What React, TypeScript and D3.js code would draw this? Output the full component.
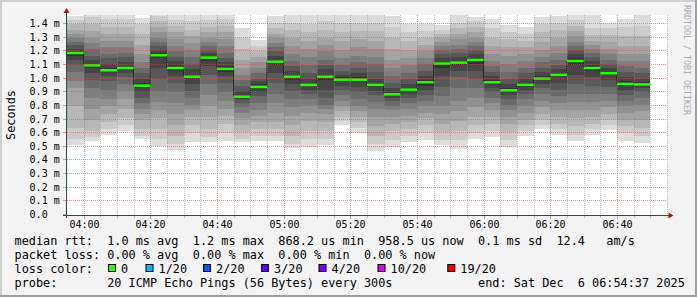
import React from "react";
import * as d3 from "d3";

const W = 697;
const H = 297;

const startTime = new Date(Date.UTC(2025, 11, 6, 3, 55));
const endTime = new Date(Date.UTC(2025, 11, 6, 6, 55));
const stepMinutes = 5;

// median rtt per 5-minute step (ms)
const medians = [
  1.189, 1.098, 1.062, 1.079, 0.949, 1.172, 1.079, 1.015, 1.155, 1.072,
  0.8682, 0.94, 1.125, 1.015, 0.955, 1.015, 0.993, 0.993, 0.955, 0.886,
  0.92, 0.974, 1.111, 1.118, 1.138, 0.974, 0.915, 0.955, 1.001, 1.028,
  1.13, 1.079, 1.04, 0.962, 0.9585,
];

// 20 sorted ping times per step (ms)
const pings = [
  [0.51,0.56,0.64,0.80,0.93,0.98,1.05,1.10,1.14,1.17,1.20,1.22,1.25,1.27,1.30,1.33,1.36,1.40,1.43,1.46],
  [0.54,0.57,0.62,0.70,0.78,0.86,0.93,0.99,1.04,1.08,1.11,1.14,1.17,1.22,1.26,1.30,1.35,1.40,1.45,1.52],
  [0.59,0.63,0.68,0.74,0.80,0.85,0.92,0.98,1.02,1.05,1.08,1.11,1.15,1.18,1.23,1.28,1.33,1.38,1.44,1.52],
  [0.62,0.66,0.71,0.78,0.85,0.91,0.96,1.01,1.04,1.07,1.09,1.12,1.16,1.19,1.23,1.28,1.33,1.38,1.44,1.52],
  [0.555,0.58,0.63,0.70,0.74,0.78,0.82,0.86,0.90,0.93,0.97,1.00,1.04,1.08,1.12,1.18,1.25,1.33,1.40,1.443],
  [0.505,0.56,0.63,0.71,0.77,0.83,0.91,1.00,1.08,1.15,1.19,1.21,1.24,1.27,1.30,1.34,1.38,1.42,1.46,1.52],
  [0.48,0.52,0.58,0.66,0.74,0.82,0.90,0.97,1.02,1.06,1.10,1.13,1.16,1.20,1.24,1.29,1.34,1.39,1.43,1.48],
  [0.535,0.60,0.66,0.72,0.77,0.81,0.86,0.91,0.96,1.00,1.03,1.07,1.11,1.16,1.21,1.26,1.31,1.36,1.42,1.50],
  [0.537,0.57,0.63,0.72,0.80,0.88,0.96,1.03,1.09,1.13,1.17,1.19,1.21,1.24,1.27,1.30,1.34,1.38,1.43,1.50],
  [0.544,0.60,0.67,0.73,0.78,0.84,0.90,0.97,1.02,1.05,1.09,1.12,1.15,1.19,1.24,1.29,1.34,1.39,1.44,1.52],
  [0.535,0.56,0.61,0.66,0.71,0.75,0.79,0.82,0.85,0.865,0.88,0.91,0.95,0.99,1.03,1.08,1.14,1.22,1.30,1.37],
  [0.54,0.58,0.63,0.68,0.73,0.77,0.82,0.87,0.90,0.93,0.96,0.98,1.00,1.04,1.08,1.12,1.16,1.20,1.24,1.285],
  [0.54,0.58,0.63,0.68,0.75,0.82,0.89,0.97,1.04,1.10,1.14,1.17,1.20,1.23,1.26,1.30,1.33,1.37,1.41,1.46],
  [0.49,0.52,0.58,0.66,0.73,0.79,0.85,0.91,0.96,0.99,1.03,1.06,1.09,1.13,1.18,1.24,1.30,1.36,1.41,1.50],
  [0.50,0.56,0.62,0.69,0.75,0.80,0.85,0.89,0.92,0.945,0.97,1.00,1.04,1.10,1.16,1.22,1.28,1.34,1.40,1.50],
  [0.515,0.56,0.62,0.68,0.74,0.78,0.81,0.86,0.92,0.99,1.03,1.07,1.10,1.14,1.20,1.25,1.30,1.36,1.42,1.50],
  [0.662,0.69,0.72,0.76,0.80,0.84,0.88,0.92,0.95,0.98,1.01,1.03,1.06,1.10,1.15,1.21,1.28,1.34,1.41,1.47],
  [0.60,0.64,0.68,0.72,0.76,0.80,0.85,0.90,0.94,0.98,1.01,1.04,1.08,1.12,1.17,1.23,1.29,1.35,1.41,1.50],
  [0.467,0.52,0.58,0.65,0.72,0.78,0.83,0.88,0.91,0.94,0.97,1.00,1.05,1.11,1.16,1.22,1.28,1.35,1.41,1.50],
  [0.50,0.55,0.62,0.67,0.72,0.77,0.80,0.84,0.86,0.88,0.90,0.93,0.97,1.02,1.08,1.14,1.22,1.30,1.38,1.46],
  [0.537,0.58,0.63,0.68,0.73,0.78,0.82,0.86,0.89,0.91,0.93,0.96,1.00,1.04,1.10,1.15,1.21,1.28,1.34,1.40],
  [0.548,0.60,0.66,0.71,0.75,0.80,0.84,0.88,0.92,0.95,0.99,1.02,1.06,1.11,1.15,1.20,1.25,1.30,1.35,1.405],
  [0.517,0.55,0.61,0.67,0.74,0.80,0.87,0.94,1.02,1.08,1.12,1.15,1.18,1.21,1.24,1.27,1.30,1.33,1.36,1.395],
  [0.485,0.55,0.62,0.69,0.76,0.84,0.93,1.01,1.06,1.10,1.13,1.16,1.19,1.22,1.25,1.29,1.33,1.37,1.41,1.50],
  [0.56,0.60,0.66,0.72,0.79,0.86,0.93,1.00,1.06,1.11,1.15,1.18,1.21,1.24,1.27,1.30,1.34,1.38,1.42,1.45],
  [0.57,0.62,0.67,0.72,0.77,0.82,0.86,0.90,0.93,0.96,0.99,1.02,1.05,1.09,1.13,1.18,1.24,1.30,1.37,1.44],
  [0.50,0.55,0.61,0.67,0.72,0.77,0.81,0.85,0.88,0.905,0.93,0.96,1.00,1.05,1.11,1.17,1.23,1.29,1.34,1.395],
  [0.583,0.62,0.66,0.70,0.75,0.80,0.85,0.89,0.92,0.94,0.97,1.00,1.04,1.08,1.13,1.18,1.23,1.28,1.33,1.38],
  [0.634,0.66,0.70,0.74,0.79,0.84,0.89,0.93,0.96,0.99,1.02,1.05,1.08,1.12,1.16,1.21,1.27,1.34,1.40,1.455],
  [0.59,0.63,0.67,0.72,0.77,0.82,0.87,0.92,0.97,1.01,1.04,1.07,1.10,1.14,1.19,1.24,1.30,1.36,1.41,1.46],
  [0.541,0.59,0.65,0.71,0.77,0.83,0.89,0.96,1.03,1.10,1.15,1.18,1.21,1.24,1.27,1.31,1.35,1.39,1.43,1.465],
  [0.59,0.63,0.67,0.72,0.77,0.83,0.89,0.95,1.01,1.06,1.10,1.13,1.16,1.19,1.22,1.25,1.28,1.32,1.37,1.47],
  [0.627,0.66,0.70,0.74,0.79,0.84,0.89,0.94,0.99,1.03,1.05,1.08,1.11,1.14,1.18,1.22,1.27,1.32,1.37,1.406],
  [0.546,0.60,0.65,0.70,0.75,0.80,0.84,0.88,0.92,0.95,0.98,1.01,1.05,1.09,1.13,1.18,1.24,1.31,1.38,1.44],
  [0.529,0.58,0.64,0.70,0.76,0.81,0.86,0.90,0.93,0.955,0.975,1.00,1.04,1.08,1.13,1.18,1.24,1.31,1.39,1.465],
];

const yTicks = [0, 0.1, 0.2, 0.3, 0.4, 0.5, 0.6, 0.7, 0.8, 0.9, 1.0, 1.1, 1.2, 1.3, 1.4];

const lossLabels = ["0", "1/20", "2/20", "3/20", "4/20", "10/20", "19/20"];
const lossColors = ["#26ff00", "#00b8ff", "#0059ff", "#5e00ff", "#7e00ff", "#dd00ff", "#ff0000"];
const lossBoxX = [108, 145.5, 203, 261, 318.5, 377.5, 447.3];

const legendLine1 = "median rtt:  1.0 ms avg  1.2 ms max  868.2 us min  958.5 us now  0.1 ms sd  12.4   am/s";
const legendLine2 = "packet loss: 0.00 % avg  0.00 % max  0.00 % min  0.00 % now";
const legendLine3 = "loss color:";
const legendLine4 = "probe:       20 ICMP Echo Pings (56 Bytes) every 300s";
const legendEnd = "end: Sat Dec  6 06:54:37 2025";

const MONO = "'DejaVu Sans Mono', monospace";
const PRE: React.CSSProperties = { whiteSpace: "pre" };

export default function App() {
  const x = d3.scaleUtc().domain([startTime, endTime]).range([67, 667]);
  const y = d3.scaleLinear().domain([0, 1.4675]).range([215, 15]);

  const times = medians.map((_, i) => d3.utcMinute.offset(startTime, i * stepMinutes));
  const tEnd = (i: number) => d3.utcMinute.offset(startTime, (i + 1) * stepMinutes);

  const minorTimes = d3.utcMinute
    .every(5)!
    .range(d3.utcMinute.offset(startTime, 1), new Date(endTime.getTime() + 1));
  const majorTimes = d3.utcMinute.every(20)!.range(startTime, endTime);
  const majorSet = new Set(majorTimes.map((d) => d.getTime()));
  const fmt = d3.utcFormat("%H:%M");

  const half = 10;
  const smoke: React.ReactElement[] = [];
  for (let b = 1; b <= half; b++) {
    const c = Math.floor((190 / half) * (half - b)) + 50;
    const col = `rgb(${c},${c},${c})`;
    pings.forEach((p, i) => {
      const lo = p[b - 1];
      const hi = p[20 - b];
      const x0 = x(times[i]);
      const x1 = x(tEnd(i));
      smoke.push(
        <rect
          key={`s${b}-${i}`}
          x={x0}
          y={y(hi)}
          width={x1 - x0}
          height={y(lo) - y(hi)}
          fill={col}
          shapeRendering="crispEdges"
        />
      );
    });
  }

  const stepData = medians.map((m, i) => [times[i], m] as [Date, number]);
  stepData.push([tEnd(medians.length - 1), medians[medians.length - 1]]);
  const stepLine = d3
    .line<[Date, number]>()
    .x((d) => x(d[0]))
    .y((d) => y(d[1]))
    .curve(d3.curveStepAfter)(stepData);

  const gridMajor = "rgba(222,80,80,0.6)";
  const gridMinor = "rgba(143,143,143,0.55)";

  return (
    <svg
      width={W}
      height={H}
      viewBox={`0 0 ${W} ${H}`}
      style={{ position: "absolute", left: 0, top: 0, display: "block" }}
    >
      <rect x={0} y={0} width={W} height={H} fill="#f3f3f3" />
      <rect x={0} y={0} width={W} height={2} fill="#cfcfcf" />
      <rect x={0} y={0} width={2} height={H} fill="#cfcfcf" />
      <rect x={0} y={H - 2} width={W} height={2} fill="#9e9e9e" />
      <rect x={W - 2} y={0} width={2} height={H} fill="#9e9e9e" />

      <defs>
        <clipPath id="canvasClip">
          <rect x={67} y={15} width={600} height={200} />
        </clipPath>
      </defs>

      <rect x={67} y={15} width={600} height={200} fill="#ffffff" />

      <g clipPath="url(#canvasClip)">
        {smoke}
        <path d={stepLine || ""} fill="none" stroke="#202020" strokeWidth={1} />
        {medians.map((m, i) => {
          const x0 = x(times[i]);
          const x1 = x(tEnd(i));
          return (
            <rect
              key={`m${i}`}
              x={x0}
              y={y(m) - 1.25}
              width={x1 - x0}
              height={2.5}
              fill={lossColors[0]}
            />
          );
        })}
      </g>

      {/* grid */}
      {minorTimes
        .filter((t) => !majorSet.has(t.getTime()))
        .map((t) => {
          const xx = Math.round(x(t)) + 0.5;
          return (
            <g key={`vm${t.getTime()}`}>
              <line x1={xx} x2={xx} y1={15} y2={215} stroke={gridMinor} strokeDasharray="1,1" />
              <line x1={xx} x2={xx} y1={215} y2={218} stroke={gridMinor} />
            </g>
          );
        })}
      {majorTimes.map((t) => {
        const xx = Math.round(x(t)) + 0.5;
        return (
          <g key={`vM${t.getTime()}`}>
            <line x1={xx} x2={xx} y1={15} y2={215} stroke={gridMajor} strokeDasharray="1,1" />
            <line x1={xx} x2={xx} y1={215} y2={219} stroke={gridMajor} />
          </g>
        );
      })}
      {yTicks.map((v) => {
        const yy = Math.round(y(v)) - 0.5;
        return (
          <g key={`h${v}`}>
            {v > 0 && (
              <line x1={67} x2={667} y1={yy} y2={yy} stroke={gridMajor} strokeDasharray="1,1" />
            )}
            <line x1={63} x2={67} y1={yy} y2={yy} stroke={gridMajor} />
          </g>
        );
      })}

      {/* axes */}
      <line x1={63} x2={669} y1={215.5} y2={215.5} stroke="#2c4d43" strokeWidth={1} />
      <line x1={66.5} x2={66.5} y1={218} y2={12} stroke="#2c4d43" strokeWidth={1} />
      <path d="M668.5,212.5 L673.5,215.5 L668.5,218.5 Z" fill="#a01818" />
      <path d="M63.5,13 L66.5,8 L69.5,13 Z" fill="#a01818" />

      {/* y labels */}
      {yTicks.map((v) => (
        <text
          key={`yl${v}`}
          x={29.6}
          y={Math.round(y(v)) + 3.2}
          fontFamily={MONO}
          fontSize={10}
          fill="#000"
          xmlSpace="preserve"
          style={PRE}
        >
          {v === 0 ? "0.0" : `${d3.format(".1f")(v)} m`}
        </text>
      ))}

      {/* x labels */}
      {majorTimes.map((t) => (
        <text
          key={`xl${t.getTime()}`}
          x={Math.round(x(t)) + 0.5}
          y={227.5}
          textAnchor="middle"
          fontFamily={MONO}
          fontSize={10}
          fill="#000"
        >
          {fmt(t)}
        </text>
      ))}

      {/* y title */}
      <text
        x={0}
        y={0}
        transform="translate(15,115) rotate(-90)"
        textAnchor="middle"
        fontFamily={MONO}
        fontSize={11.85}
        fill="#000"
      >
        Seconds
      </text>

      {/* watermark */}
      <text
        x={0}
        y={0}
        transform="translate(684,5) rotate(90)"
        fontFamily={MONO}
        fontSize={8.3}
        fill="#aaaaaa"
      >
        RRDTOOL / TOBI OETIKER
      </text>

      {/* legend */}
      <g fontFamily={MONO} fontSize={11.85} fill="#000">
        <text x={14.5} y={244.5} xmlSpace="preserve" style={PRE}>{legendLine1}</text>
        <text x={14.5} y={258.7} xmlSpace="preserve" style={PRE}>{legendLine2}</text>
        <text x={14.5} y={272.9} xmlSpace="preserve" style={PRE}>{legendLine3}</text>
        <text x={14.5} y={287.1} xmlSpace="preserve" style={PRE}>{legendLine4}</text>
        <text x={478} y={287.1} xmlSpace="preserve" style={PRE}>{legendEnd}</text>
        {lossLabels.map((lab, i) => (
          <g key={`lg${i}`}>
            <rect
              x={lossBoxX[i] + 0.5}
              y={264.5}
              width={7}
              height={7}
              fill={lossColors[i]}
              stroke="#000"
              strokeWidth={1}
            />
            <text x={lossBoxX[i] + 13} y={272.9} xmlSpace="preserve" style={PRE}>{lab}</text>
          </g>
        ))}
      </g>
    </svg>
  );
}
